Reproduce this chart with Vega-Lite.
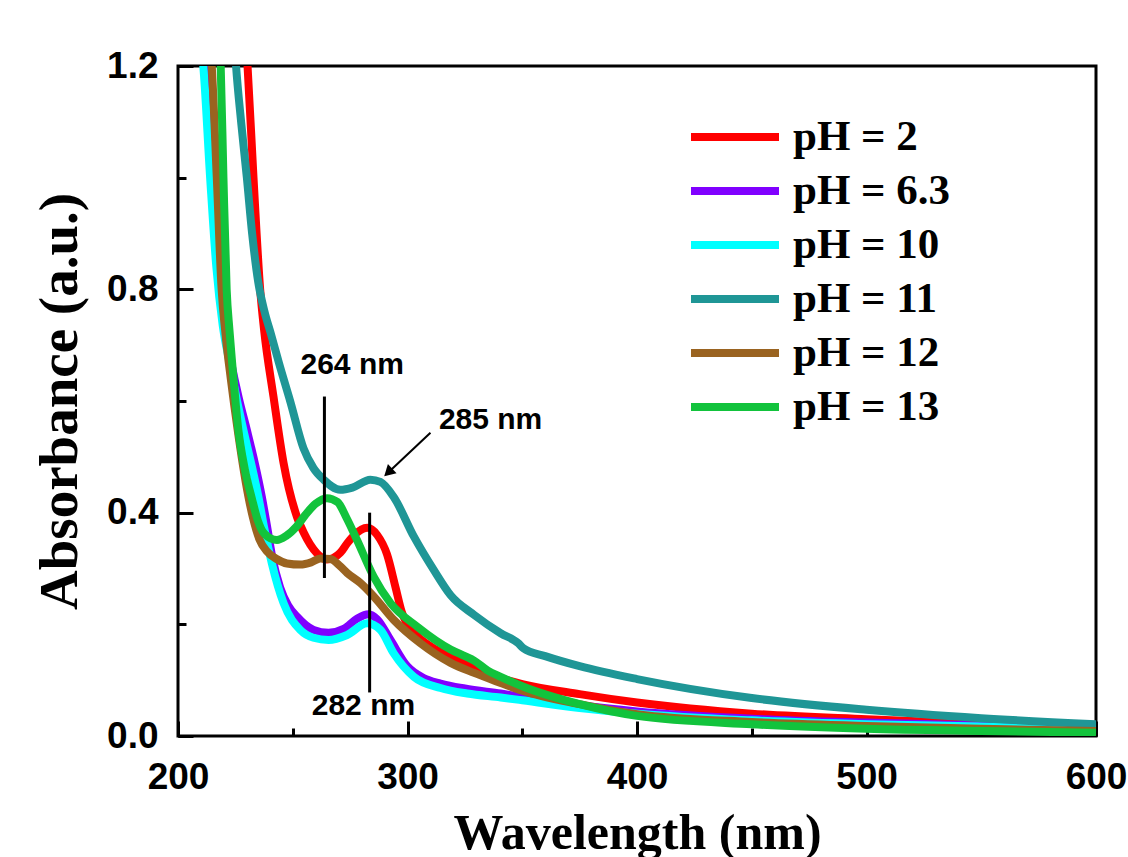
{
  "$schema": "https://vega.github.io/schema/vega-lite/v6.json",
  "width": 918,
  "height": 670,
  "autosize": "none",
  "padding": {"left": 178, "top": 66, "right": 32, "bottom": 121},
  "background": "white",
  "config": {
    "view": {"stroke": "black", "strokeWidth": 3},
    "axis": {"grid": false, "domain": false}
  },
  "resolve": {"axis": {"x": "independent", "y": "independent"}},
  "datasets": {
    "spectra": [
      {"series":"pH = 2","wl":229.5,"abs":1.25},{"series":"pH = 2","wl":230.3,"abs":1.2},{"series":"pH = 2","wl":232.9,"abs":1.0},{"series":"pH = 2","wl":235.8,"abs":0.8},{"series":"pH = 2","wl":237.5,"abs":0.728},{"series":"pH = 2","wl":241.6,"abs":0.608},{"series":"pH = 2","wl":246,"abs":0.489},{"series":"pH = 2","wl":251.8,"abs":0.393},{"series":"pH = 2","wl":254.7,"abs":0.365},{"series":"pH = 2","wl":260.6,"abs":0.327},{"series":"pH = 2","wl":264.9,"abs":0.316},{"series":"pH = 2","wl":267.8,"abs":0.319},{"series":"pH = 2","wl":270.7,"abs":0.328},{"series":"pH = 2","wl":273.7,"abs":0.345},{"series":"pH = 2","wl":276.6,"abs":0.359},{"series":"pH = 2","wl":282.4,"abs":0.373},{"series":"pH = 2","wl":286.8,"abs":0.36},{"series":"pH = 2","wl":291.1,"abs":0.325},{"series":"pH = 2","wl":294.8,"abs":0.266},{"series":"pH = 2","wl":297.5,"abs":0.222},{"series":"pH = 2","wl":302.8,"abs":0.186},{"series":"pH = 2","wl":311.5,"abs":0.157},{"series":"pH = 2","wl":320.2,"abs":0.139},{"series":"pH = 2","wl":329,"abs":0.121},{"series":"pH = 2","wl":340,"abs":0.104},{"series":"pH = 2","wl":350,"abs":0.093},{"series":"pH = 2","wl":375,"abs":0.075},{"series":"pH = 2","wl":400,"abs":0.06},{"series":"pH = 2","wl":450,"abs":0.04},{"series":"pH = 2","wl":500,"abs":0.03},{"series":"pH = 2","wl":550,"abs":0.022},{"series":"pH = 2","wl":600,"abs":0.015},

      {"series":"pH = 6.3","wl":210.3,"abs":1.25},{"series":"pH = 6.3","wl":211.6,"abs":1.2},{"series":"pH = 6.3","wl":214.6,"abs":1.0},{"series":"pH = 6.3","wl":217.4,"abs":0.84},{"series":"pH = 6.3","wl":220,"abs":0.74},{"series":"pH = 6.3","wl":223,"abs":0.672},{"series":"pH = 6.3","wl":226.5,"abs":0.605},{"series":"pH = 6.3","wl":230,"abs":0.548},{"series":"pH = 6.3","wl":233.5,"abs":0.488},{"series":"pH = 6.3","wl":236.5,"abs":0.429},{"series":"pH = 6.3","wl":238.7,"abs":0.378},{"series":"pH = 6.3","wl":241,"abs":0.322},{"series":"pH = 6.3","wl":244.5,"abs":0.266},{"series":"pH = 6.3","wl":248,"abs":0.234},{"series":"pH = 6.3","wl":251.8,"abs":0.214},{"series":"pH = 6.3","wl":259.1,"abs":0.19},{"series":"pH = 6.3","wl":265.6,"abs":0.185},{"series":"pH = 6.3","wl":272.2,"abs":0.192},{"series":"pH = 6.3","wl":278,"abs":0.21},{"series":"pH = 6.3","wl":283,"abs":0.218},{"series":"pH = 6.3","wl":286.8,"abs":0.209},{"series":"pH = 6.3","wl":292.6,"abs":0.172},{"series":"pH = 6.3","wl":299.9,"abs":0.125},{"series":"pH = 6.3","wl":307,"abs":0.104},{"series":"pH = 6.3","wl":314.4,"abs":0.094},{"series":"pH = 6.3","wl":325,"abs":0.085},{"series":"pH = 6.3","wl":340.6,"abs":0.076},{"series":"pH = 6.3","wl":350,"abs":0.07},{"series":"pH = 6.3","wl":375,"abs":0.055},{"series":"pH = 6.3","wl":400,"abs":0.044},{"series":"pH = 6.3","wl":450,"abs":0.031},{"series":"pH = 6.3","wl":500,"abs":0.024},{"series":"pH = 6.3","wl":550,"abs":0.019},{"series":"pH = 6.3","wl":600,"abs":0.015},

      {"series":"pH = 10","wl":209.6,"abs":1.25},{"series":"pH = 10","wl":211,"abs":1.2},{"series":"pH = 10","wl":214,"abs":1.0},{"series":"pH = 10","wl":216.7,"abs":0.84},{"series":"pH = 10","wl":219.5,"abs":0.735},{"series":"pH = 10","wl":222.5,"abs":0.668},{"series":"pH = 10","wl":225.5,"abs":0.605},{"series":"pH = 10","wl":228.5,"abs":0.548},{"series":"pH = 10","wl":232,"abs":0.486},{"series":"pH = 10","wl":235,"abs":0.429},{"series":"pH = 10","wl":237.6,"abs":0.372},{"series":"pH = 10","wl":240.9,"abs":0.309},{"series":"pH = 10","wl":246,"abs":0.238},{"series":"pH = 10","wl":253.3,"abs":0.19},{"series":"pH = 10","wl":259,"abs":0.176},{"series":"pH = 10","wl":265.6,"abs":0.172},{"series":"pH = 10","wl":273.7,"abs":0.181},{"series":"pH = 10","wl":282.4,"abs":0.202},{"series":"pH = 10","wl":288.2,"abs":0.19},{"series":"pH = 10","wl":294,"abs":0.148},{"series":"pH = 10","wl":302.8,"abs":0.106},{"series":"pH = 10","wl":314.4,"abs":0.086},{"series":"pH = 10","wl":326,"abs":0.076},{"series":"pH = 10","wl":340.6,"abs":0.069},{"series":"pH = 10","wl":350,"abs":0.064},{"series":"pH = 10","wl":375,"abs":0.05},{"series":"pH = 10","wl":400,"abs":0.04},{"series":"pH = 10","wl":450,"abs":0.028},{"series":"pH = 10","wl":500,"abs":0.021},{"series":"pH = 10","wl":550,"abs":0.017},{"series":"pH = 10","wl":600,"abs":0.012},

      {"series":"pH = 11","wl":224.5,"abs":1.25},{"series":"pH = 11","wl":225.3,"abs":1.2},{"series":"pH = 11","wl":227.5,"abs":1.1},{"series":"pH = 11","wl":230,"abs":1.0},{"series":"pH = 11","wl":232.3,"abs":0.9},{"series":"pH = 11","wl":235,"abs":0.812},{"series":"pH = 11","wl":237.7,"abs":0.76},{"series":"pH = 11","wl":240.5,"abs":0.72},{"series":"pH = 11","wl":244,"abs":0.668},{"series":"pH = 11","wl":249,"abs":0.598},{"series":"pH = 11","wl":254.7,"abs":0.515},{"series":"pH = 11","wl":259,"abs":0.48},{"series":"pH = 11","wl":263.5,"abs":0.459},{"series":"pH = 11","wl":270.7,"abs":0.441},{"series":"pH = 11","wl":276,"abs":0.445},{"series":"pH = 11","wl":283.8,"abs":0.459},{"series":"pH = 11","wl":288.2,"abs":0.455},{"series":"pH = 11","wl":294,"abs":0.428},{"series":"pH = 11","wl":302.8,"abs":0.357},{"series":"pH = 11","wl":311.5,"abs":0.297},{"series":"pH = 11","wl":318.8,"abs":0.252},{"series":"pH = 11","wl":329,"abs":0.217},{"series":"pH = 11","wl":340.6,"abs":0.184},{"series":"pH = 11","wl":348.3,"abs":0.166},{"series":"pH = 11","wl":350.5,"abs":0.157},{"series":"pH = 11","wl":360,"abs":0.143},{"series":"pH = 11","wl":375,"abs":0.125},{"series":"pH = 11","wl":400,"abs":0.102},{"series":"pH = 11","wl":450,"abs":0.068},{"series":"pH = 11","wl":500,"abs":0.047},{"series":"pH = 11","wl":550,"abs":0.032},{"series":"pH = 11","wl":600,"abs":0.021},

      {"series":"pH = 12","wl":213.8,"abs":1.25},{"series":"pH = 12","wl":214.7,"abs":1.2},{"series":"pH = 12","wl":216.9,"abs":1.0},{"series":"pH = 12","wl":219,"abs":0.8},{"series":"pH = 12","wl":220.7,"abs":0.72},{"series":"pH = 12","wl":223,"abs":0.64},{"series":"pH = 12","wl":226,"abs":0.548},{"series":"pH = 12","wl":229.5,"abs":0.455},{"series":"pH = 12","wl":232.6,"abs":0.392},{"series":"pH = 12","wl":235.5,"abs":0.352},{"series":"pH = 12","wl":238.7,"abs":0.331},{"series":"pH = 12","wl":243,"abs":0.317},{"series":"pH = 12","wl":247.5,"abs":0.309},{"series":"pH = 12","wl":253.3,"abs":0.307},{"series":"pH = 12","wl":258,"abs":0.311},{"series":"pH = 12","wl":262,"abs":0.318},{"series":"pH = 12","wl":266.4,"abs":0.317},{"series":"pH = 12","wl":270.7,"abs":0.304},{"series":"pH = 12","wl":273.7,"abs":0.292},{"series":"pH = 12","wl":279.5,"abs":0.274},{"series":"pH = 12","wl":285.3,"abs":0.25},{"series":"pH = 12","wl":294,"abs":0.208},{"series":"pH = 12","wl":305.7,"abs":0.166},{"series":"pH = 12","wl":318.8,"abs":0.131},{"series":"pH = 12","wl":329,"abs":0.113},{"series":"pH = 12","wl":340.6,"abs":0.095},{"series":"pH = 12","wl":350,"abs":0.081},{"series":"pH = 12","wl":375,"abs":0.057},{"series":"pH = 12","wl":400,"abs":0.039},{"series":"pH = 12","wl":450,"abs":0.025},{"series":"pH = 12","wl":500,"abs":0.018},{"series":"pH = 12","wl":550,"abs":0.013},{"series":"pH = 12","wl":600,"abs":0.009},

      {"series":"pH = 13","wl":217.8,"abs":1.25},{"series":"pH = 13","wl":218.6,"abs":1.2},{"series":"pH = 13","wl":219.8,"abs":1.0},{"series":"pH = 13","wl":221.2,"abs":0.8},{"series":"pH = 13","wl":222.4,"abs":0.728},{"series":"pH = 13","wl":223.6,"abs":0.668},{"series":"pH = 13","wl":226.3,"abs":0.548},{"series":"pH = 13","wl":229,"abs":0.48},{"series":"pH = 13","wl":232.2,"abs":0.425},{"series":"pH = 13","wl":234.7,"abs":0.387},{"series":"pH = 13","wl":237.7,"abs":0.362},{"series":"pH = 13","wl":243.1,"abs":0.351},{"series":"pH = 13","wl":247,"abs":0.358},{"series":"pH = 13","wl":251.8,"abs":0.376},{"series":"pH = 13","wl":255.5,"abs":0.396},{"series":"pH = 13","wl":260,"abs":0.416},{"series":"pH = 13","wl":264.9,"abs":0.426},{"series":"pH = 13","wl":269.5,"abs":0.419},{"series":"pH = 13","wl":273.5,"abs":0.39},{"series":"pH = 13","wl":278,"abs":0.351},{"series":"pH = 13","wl":285.3,"abs":0.285},{"series":"pH = 13","wl":292.6,"abs":0.238},{"series":"pH = 13","wl":304.2,"abs":0.196},{"series":"pH = 13","wl":318.8,"abs":0.155},{"series":"pH = 13","wl":325,"abs":0.143},{"series":"pH = 13","wl":329,"abs":0.135},{"series":"pH = 13","wl":335,"abs":0.117},{"series":"pH = 13","wl":340.6,"abs":0.106},{"series":"pH = 13","wl":350,"abs":0.089},{"series":"pH = 13","wl":375,"abs":0.057},{"series":"pH = 13","wl":400,"abs":0.036},{"series":"pH = 13","wl":450,"abs":0.021},{"series":"pH = 13","wl":500,"abs":0.013},{"series":"pH = 13","wl":550,"abs":0.009},{"series":"pH = 13","wl":600,"abs":0.006}
    ],
    "vlines": [
      {"wl": 263.8, "abs": 0.283, "abs2": 0.608},
      {"wl": 283.5, "abs": 0.078, "abs2": 0.40}
    ],
    "arrow": [
      {"wl": 310, "abs": 0.543, "wl2": 291.6, "abs2": 0.472}
    ],
    "head": [
      {"wl": 291.6, "abs": 0.472}
    ],
    "labels": [
      {"wl": 275.9, "abs": 0.665, "t": "264 nm"},
      {"wl": 336.2, "abs": 0.566, "t": "285 nm"},
      {"wl": 280.8, "abs": 0.054, "t": "282 nm"}
    ]
  },
  "layer": [
    {
      "data": {"name": "spectra"},
      "mark": {"type": "line", "strokeWidth": 8, "clip": true, "interpolate": "monotone"},
      "encoding": {
        "x": {
          "field": "wl", "type": "quantitative",
          "scale": {"domain": [200, 600], "nice": false, "zero": false},
          "axis": {
            "orient": "bottom",
            "title": null,
            "values": [200, 250, 300, 350, 400, 450, 500, 550, 600],
            "tickSize": -8, "tickWidth": 3, "tickColor": "black",
            "labels": false
          }
        },
        "y": {
          "field": "abs", "type": "quantitative",
          "scale": {"domain": [0, 1.2], "nice": false},
          "axis": {
            "orient": "left",
            "title": null,
            "values": [0, 0.2, 0.4, 0.6, 0.8, 1.0, 1.2],
            "tickSize": -8, "tickWidth": 3, "tickColor": "black",
            "labels": false
          }
        },
        "color": {
          "field": "series", "type": "nominal",
          "scale": {
            "domain": ["pH = 2", "pH = 6.3", "pH = 10", "pH = 11", "pH = 12", "pH = 13"],
            "range": ["#FF0000", "#8000FF", "#00FFFF", "#1F9696", "#9A6320", "#12C33C"]
          },
          "legend": {
            "title": null,
            "orient": "none", "legendX": 509, "legendY": 51,
            "padding": 0,
            "symbolType": "stroke", "symbolSize": 7744, "symbolStrokeWidth": 8,
            "clipHeight": 40, "rowPadding": 11, "labelOffset": 10,
            "labelFont": "Liberation Serif", "labelFontWeight": "bold", "labelFontSize": 43, "labelColor": "black",
            "labelLimit": 400
          }
        }
      }
    },
    {
      "data": {"name": "vlines"},
      "mark": {"type": "rule", "color": "black", "strokeWidth": 3},
      "encoding": {
        "x": {
          "field": "wl", "type": "quantitative",
          "axis": {
            "orient": "bottom",
            "title": "Wavelength (nm)",
            "values": [200, 300, 400, 500, 600],
            "tickSize": -15, "tickWidth": 3, "tickColor": "black",
            "labelFont": "Liberation Sans", "labelFontWeight": "bold", "labelFontSize": 37, "labelColor": "black",
            "labelPadding": 38, "labelFlush": false,
            "titleFont": "Liberation Serif", "titleFontWeight": "bold", "titleFontSize": 50, "titleColor": "black",
            "titleX": 459, "titleY": 112, "titleBaseline": "alphabetic", "titleAlign": "center"
          }
        },
        "y": {
          "field": "abs", "type": "quantitative",
          "axis": {
            "orient": "left",
            "title": "Absorbance (a.u.)",
            "values": [0, 0.4, 0.8, 1.2],
            "format": ".1f",
            "tickSize": -15, "tickWidth": 3, "tickColor": "black",
            "labelFont": "Liberation Sans", "labelFontWeight": "bold", "labelFontSize": 37, "labelColor": "black",
            "labelPadding": 35, "labelFlush": false,
            "titleFont": "Liberation Serif", "titleFontWeight": "bold", "titleFontSize": 55, "titleColor": "black",
            "titleX": -102, "titleY": 335, "titleAngle": 270, "titleBaseline": "alphabetic", "titleAlign": "center"
          }
        },
        "y2": {"field": "abs2"}
      }
    },
    {
      "data": {"name": "arrow"},
      "mark": {"type": "rule", "color": "black", "strokeWidth": 2},
      "encoding": {
        "x": {"field": "wl", "type": "quantitative", "axis": null},
        "y": {"field": "abs", "type": "quantitative", "axis": null},
        "x2": {"field": "wl2"},
        "y2": {"field": "abs2"}
      }
    },
    {
      "data": {"name": "head"},
      "mark": {"type": "point", "shape": "triangle-up", "filled": true, "color": "black", "size": 160, "angle": 227, "opacity": 1},
      "encoding": {
        "x": {"field": "wl", "type": "quantitative", "axis": null},
        "y": {"field": "abs", "type": "quantitative", "axis": null}
      }
    },
    {
      "data": {"name": "labels"},
      "mark": {"type": "text", "font": "Liberation Sans", "fontWeight": "bold", "fontSize": 30, "color": "black", "align": "center", "baseline": "middle"},
      "encoding": {
        "x": {"field": "wl", "type": "quantitative", "axis": null},
        "y": {"field": "abs", "type": "quantitative", "axis": null},
        "text": {"field": "t"}
      }
    }
  ]
}
